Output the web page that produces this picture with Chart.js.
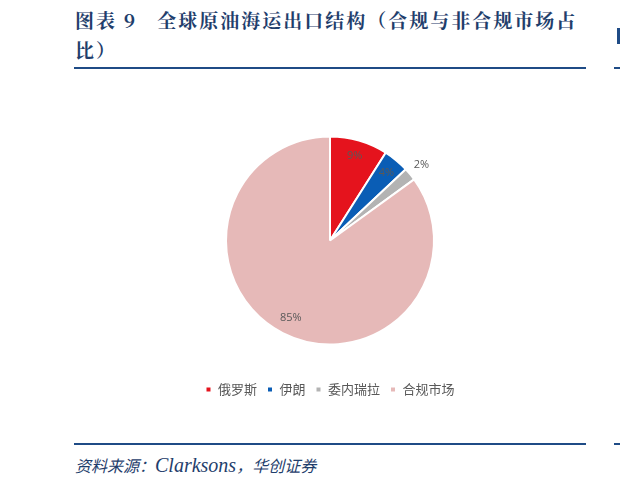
<!DOCTYPE html>
<html>
<head>
<meta charset="utf-8">
<script src="https://cdn.jsdelivr.net/npm/chart.js@4"></script>
<style>
  html, body { margin: 0; padding: 0; background: #fff; }
  body { width: 620px; height: 486px; position: relative; overflow: hidden; }
  .title {
    position: absolute; left: 75px; top: 5px; width: 540px;
    font-family: "Noto Serif CJK SC", "Noto Sans CJK SC", serif;
    font-weight: bold; font-size: 19px; line-height: 30px; color: #1f3e6c;
    letter-spacing: 2px; white-space: nowrap;
  }
  .rule { position: absolute; left: 74px; width: 512px; height: 2px; background: #1f4b86; }
  .rule-r { position: absolute; left: 614px; width: 6px; height: 2px; background: #1f4b86; }
  .source {
    position: absolute; left: 75px; top: 453px; white-space: nowrap;
    font-family: "Noto Sans CJK SC", serif;
    font-style: italic; font-size: 16px; color: #1f3e6c;
  }
  .source .en { font-family: "Liberation Serif", serif; font-size: 20px; }
  #wrap { position: absolute; left: 74px; top: 102px; width: 512px; height: 304px; }
</style>
</head>
<body>
<div class="title">图表 9&nbsp;&nbsp;&nbsp;全球原油海运出口结构（合规与非合规市场占<br>比）</div>
<div class="rule" style="top:67px"></div>
<div class="rule-r" style="top:67px"></div>
<div style="position:absolute;left:617px;top:28px;width:3px;height:16px;background:#1f4b86"></div>
<div id="wrap"><canvas id="c"></canvas></div>
<div class="rule" style="top:443px"></div>
<div class="rule-r" style="top:443px"></div>
<div class="source">资料来源：<span class="en">Clarksons</span>，华创证券</div>
<script>
const categories = ["俄罗斯", "伊朗", "委内瑞拉", "合规市场"];
const shares = [9, 4, 2, 85];
const sliceColors = ["#e5131d", "#0a5db5", "#b3b3b3", "#e6b9b8"];
const labelPlace = [0.85, 0.85, 1.14, 0.83];

const pctLabels = {
  id: "pctLabels",
  afterDatasetsDraw(chart) {
    const ctx = chart.ctx;
    const arcs = chart.getDatasetMeta(0).data;
    ctx.save();
    ctx.font = "11px 'Open Sans', 'Noto Sans', sans-serif";
    ctx.fillStyle = "#595959";
    ctx.textAlign = "center";
    ctx.textBaseline = "middle";
    arcs.forEach((arc, i) => {
      const mid = (arc.startAngle + arc.endAngle) / 2;
      const r = arc.outerRadius * labelPlace[i];
      ctx.fillText(shares[i] + "%", arc.x + Math.cos(mid) * r, arc.y + Math.sin(mid) * r);
    });
    ctx.restore();
  },
};

new Chart(document.getElementById("c"), {
  type: "pie",
  data: {
    labels: categories,
    datasets: [{
      data: shares,
      backgroundColor: sliceColors,
      borderColor: "#ffffff",
      borderWidth: 2,
      radius: 104,
    }],
  },
  options: {
    responsive: true,
    maintainAspectRatio: false,
    animation: false,
    layout: { padding: { top: 6 } },
    plugins: {
      legend: {
        position: "bottom",
        labels: {
          color: "#595959",
          font: { size: 13, family: "'Noto Sans CJK SC', sans-serif" },
          boxWidth: 6,
          boxHeight: 6,
          padding: 10,
        },
      },
      tooltip: { enabled: false },
    },
  },
  plugins: [pctLabels],
});
</script>
</body>
</html>
